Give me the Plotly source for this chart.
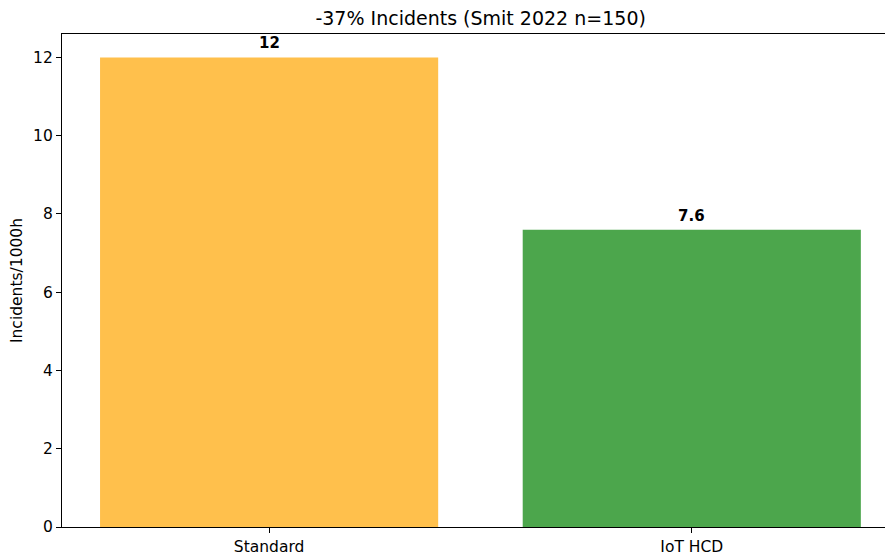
import plotly.graph_objects as go

categories = ["Standard", "IoT HCD"]
values = [12, 7.6]
labels = ["12", "7.6"]
colors = ["#FFC04C", "#4CA64C"]
title = "-37% Incidents (Smit 2022 n=150)"
y_title = "Incidents/1000h"
y_ticks = [0, 2, 4, 6, 8, 10, 12]

FONT = "DejaVu Sans"
TICK = 15.5

fig = go.Figure()
fig.add_trace(go.Bar(
    x=categories, y=values, width=0.8,
    marker=dict(color=colors, line=dict(width=0)),
    hoverinfo="skip",
))
for c, v, t in zip(categories, values, labels):
    fig.add_annotation(x=c, y=v, text="<b>%s</b>" % t, showarrow=False,
                       yanchor="bottom", yshift=3,
                       font=dict(family=FONT, size=15, color="black"))

fig.update_layout(
    width=893, height=557,
    margin=dict(l=54, r=0, t=26, b=38),
    paper_bgcolor="white", plot_bgcolor="white",
    showlegend=False,
    title=dict(text=title, xref="container", x=0.5293, xanchor="center",
               yref="container", y=0.982, yanchor="middle",
               font=dict(family=FONT, size=19, color="black")),
    font=dict(family=FONT, size=TICK, color="black"),
)
fig.update_xaxes(
    range=[-0.49, 1.495], showgrid=False, zeroline=False,
    showline=True, linecolor="black", linewidth=1.2, mirror=True,
    ticks="outside", ticklen=5, tickwidth=1, tickcolor="black",
    tickfont=dict(family=FONT, size=TICK),
)
fig.update_yaxes(
    range=[0, 12.6], tickvals=y_ticks, showgrid=False, zeroline=False,
    showline=True, linecolor="black", linewidth=1.2,
    ticks="outside", ticklen=5, tickwidth=1, tickcolor="black",
    tickfont=dict(family=FONT, size=TICK),
    title=dict(text=y_title, font=dict(family=FONT, size=TICK), standoff=8),
)
fig.write_html("out.html")
